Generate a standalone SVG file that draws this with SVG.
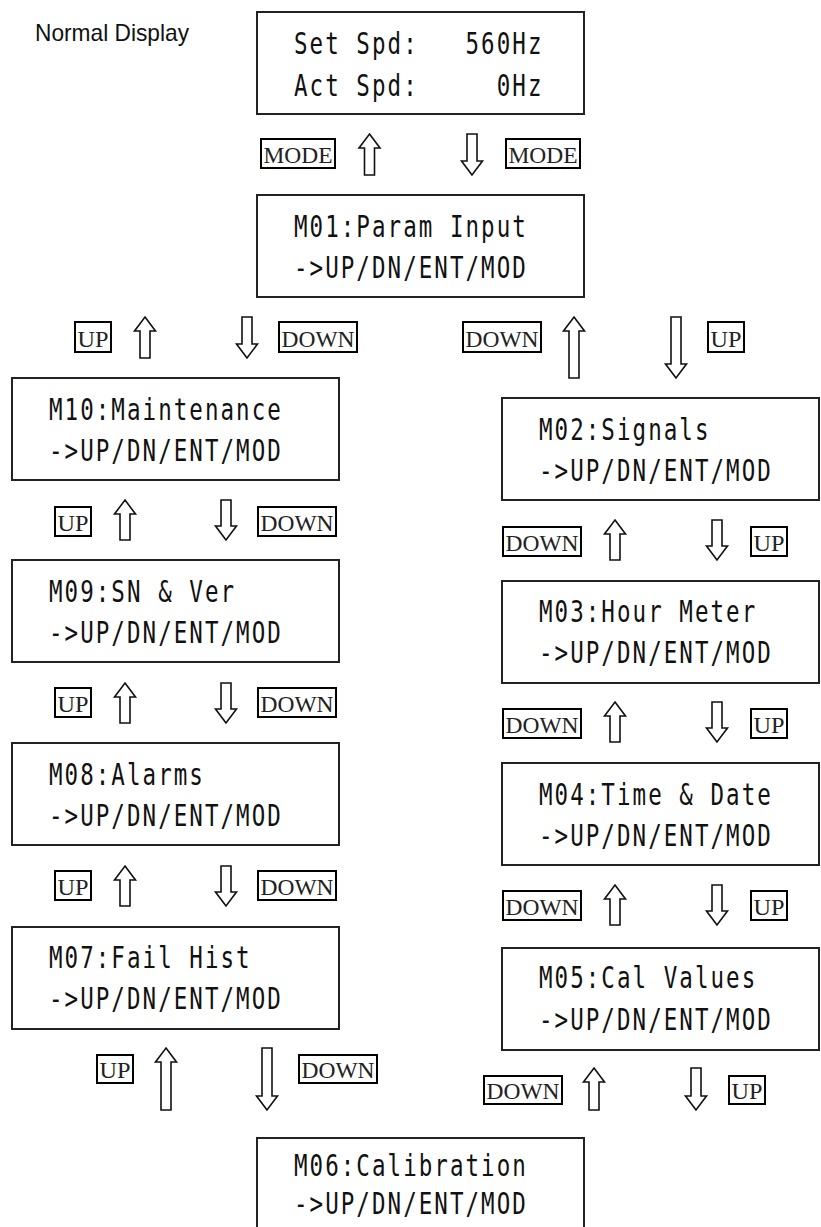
<svg xmlns="http://www.w3.org/2000/svg" width="821" height="1227" viewBox="0 0 821 1227">
<style>
.bg{fill:#fff}
.box{fill:#fff;stroke:#222;stroke-width:2}
.lcd{font-family:"DejaVu Sans Mono","Liberation Mono",monospace;font-size:30px;letter-spacing:2.74px;fill:#111}
.cap{font-family:"Liberation Sans",Arial,sans-serif;font-size:24px;fill:#111}
.lbl{fill:#fff;stroke:#000;stroke-width:2}
.lt{font-family:"Liberation Serif","Times New Roman",serif;font-size:24px;fill:#222;text-anchor:middle}
.arr{fill:#fff;stroke:#111;stroke-width:1.6;stroke-linejoin:miter}
</style>
<rect class="bg" x="0" y="0" width="821" height="1227"/>
<text class="cap" x="35" y="41" textLength="154" lengthAdjust="spacingAndGlyphs">Normal Display</text>

<g id="normal">
<rect class="box" x="257" y="12" width="327" height="102"/>
<text class="lcd" transform="matrix(0.75 0 0 1 294 54)" xml:space="preserve">Set Spd:   560Hz</text>
<text class="lcd" transform="matrix(0.75 0 0 1 294 96)" xml:space="preserve">Act Spd:     0Hz</text>
</g>
<g id="m01">
<rect class="box" x="257" y="195" width="327" height="102"/>
<text class="lcd" transform="matrix(0.75 0 0 1 294 237)">M01:Param Input</text>
<text class="lcd" transform="matrix(0.75 0 0 1 294 278)">-&gt;UP/DN/ENT/MOD</text>
</g>
<g id="m10">
<rect class="box" x="12" y="378" width="327" height="102"/>
<text class="lcd" transform="matrix(0.75 0 0 1 49 420)">M10:Maintenance</text>
<text class="lcd" transform="matrix(0.75 0 0 1 49 461)">-&gt;UP/DN/ENT/MOD</text>
</g>
<g id="m09">
<rect class="box" x="12" y="560" width="327" height="102"/>
<text class="lcd" transform="matrix(0.75 0 0 1 49 602)">M09:SN &amp; Ver</text>
<text class="lcd" transform="matrix(0.75 0 0 1 49 643)">-&gt;UP/DN/ENT/MOD</text>
</g>
<g id="m08">
<rect class="box" x="12" y="743" width="327" height="102"/>
<text class="lcd" transform="matrix(0.75 0 0 1 49 785)">M08:Alarms</text>
<text class="lcd" transform="matrix(0.75 0 0 1 49 826)">-&gt;UP/DN/ENT/MOD</text>
</g>
<g id="m07">
<rect class="box" x="12" y="927" width="327" height="102"/>
<text class="lcd" transform="matrix(0.75 0 0 1 49 968)">M07:Fail Hist</text>
<text class="lcd" transform="matrix(0.75 0 0 1 49 1009)">-&gt;UP/DN/ENT/MOD</text>
</g>
<g id="m02">
<rect class="box" x="502" y="398" width="317" height="102"/>
<text class="lcd" transform="matrix(0.75 0 0 1 539 440)">M02:Signals</text>
<text class="lcd" transform="matrix(0.75 0 0 1 539 481)">-&gt;UP/DN/ENT/MOD</text>
</g>
<g id="m03">
<rect class="box" x="502" y="581" width="317" height="102"/>
<text class="lcd" transform="matrix(0.75 0 0 1 539 622)">M03:Hour Meter</text>
<text class="lcd" transform="matrix(0.75 0 0 1 539 663)">-&gt;UP/DN/ENT/MOD</text>
</g>
<g id="m04">
<rect class="box" x="502" y="763" width="317" height="102"/>
<text class="lcd" transform="matrix(0.75 0 0 1 539 805)">M04:Time &amp; Date</text>
<text class="lcd" transform="matrix(0.75 0 0 1 539 846)">-&gt;UP/DN/ENT/MOD</text>
</g>
<g id="m05">
<rect class="box" x="502" y="948" width="317" height="102"/>
<text class="lcd" transform="matrix(0.75 0 0 1 539 988)">M05:Cal Values</text>
<text class="lcd" transform="matrix(0.75 0 0 1 539 1030)">-&gt;UP/DN/ENT/MOD</text>
</g>
<g id="m06">
<rect class="box" x="257" y="1138" width="327" height="102"/>
<text class="lcd" transform="matrix(0.75 0 0 1 294 1176)">M06:Calibration</text>
<text class="lcd" transform="matrix(0.75 0 0 1 294 1214)">-&gt;UP/DN/ENT/MOD</text>
</g>

<g id="connectors">
<!-- MODE row -->
<rect class="lbl" x="261" y="139" width="74" height="29"/><text class="lt" x="298" y="163" textLength="69" lengthAdjust="spacingAndGlyphs">MODE</text>
<polygon class="arr" points="369.5,134 380,148 374.5,148 374.5,175 364.5,175 364.5,148 359,148"/>
<polygon class="arr" points="472,175 461.5,161 467,161 467,134 477,134 477,161 482.5,161"/>
<rect class="lbl" x="506" y="139" width="74" height="29"/><text class="lt" x="543" y="163" textLength="69" lengthAdjust="spacingAndGlyphs">MODE</text>

<!-- row 1 left -->
<rect class="lbl" x="75" y="322" width="36" height="30"/><text class="lt" x="93" y="347" textLength="31" lengthAdjust="spacingAndGlyphs">UP</text>
<polygon class="arr" points="145,317 155.5,331 150,331 150,358 140,358 140,331 134.5,331"/>
<polygon class="arr" points="247,358 236.5,344 242,344 242,317 252,317 252,344 257.5,344"/>
<rect class="lbl" x="279" y="322" width="78" height="30"/><text class="lt" x="318" y="347" textLength="73" lengthAdjust="spacingAndGlyphs">DOWN</text>
<!-- row 1 right -->
<rect class="lbl" x="463" y="322" width="78" height="30"/><text class="lt" x="502" y="347" textLength="73" lengthAdjust="spacingAndGlyphs">DOWN</text>
<polygon class="arr" points="574,317 584.5,331 579,331 579,378 569,378 569,331 563.5,331"/>
<polygon class="arr" points="676,378 665.5,364 671,364 671,317 681,317 681,364 686.5,364"/>
<rect class="lbl" x="708" y="322" width="36" height="30"/><text class="lt" x="726" y="347" textLength="31" lengthAdjust="spacingAndGlyphs">UP</text>

<!-- left row 2 -->
<rect class="lbl" x="55" y="507" width="36" height="29"/><text class="lt" x="73" y="531" textLength="31" lengthAdjust="spacingAndGlyphs">UP</text>
<polygon class="arr" points="125,500 135.5,514 130,514 130,540 120,540 120,514 114.5,514"/>
<polygon class="arr" points="226,540 215.5,526 221,526 221,500 231,500 231,526 236.5,526"/>
<rect class="lbl" x="258" y="507" width="78" height="29"/><text class="lt" x="297" y="531" textLength="73" lengthAdjust="spacingAndGlyphs">DOWN</text>
<!-- left row 3 -->
<rect class="lbl" x="55" y="688" width="36" height="29"/><text class="lt" x="73" y="712" textLength="31" lengthAdjust="spacingAndGlyphs">UP</text>
<polygon class="arr" points="125,683 135.5,697 130,697 130,723 120,723 120,697 114.5,697"/>
<polygon class="arr" points="226,723 215.5,709 221,709 221,683 231,683 231,709 236.5,709"/>
<rect class="lbl" x="258" y="688" width="78" height="29"/><text class="lt" x="297" y="712" textLength="73" lengthAdjust="spacingAndGlyphs">DOWN</text>
<!-- left row 4 -->
<rect class="lbl" x="55" y="871" width="36" height="29"/><text class="lt" x="73" y="895" textLength="31" lengthAdjust="spacingAndGlyphs">UP</text>
<polygon class="arr" points="125,866 135.5,880 130,880 130,906 120,906 120,880 114.5,880"/>
<polygon class="arr" points="226,906 215.5,892 221,892 221,866 231,866 231,892 236.5,892"/>
<rect class="lbl" x="258" y="871" width="78" height="29"/><text class="lt" x="297" y="895" textLength="73" lengthAdjust="spacingAndGlyphs">DOWN</text>
<!-- left row 5 -->
<rect class="lbl" x="97" y="1055" width="36" height="28"/><text class="lt" x="115" y="1078" textLength="31" lengthAdjust="spacingAndGlyphs">UP</text>
<polygon class="arr" points="166,1048 176.5,1062 171,1062 171,1110 161,1110 161,1062 155.5,1062"/>
<polygon class="arr" points="267,1110 256.5,1096 262,1096 262,1048 272,1048 272,1096 277.5,1096"/>
<rect class="lbl" x="299" y="1055" width="78" height="28"/><text class="lt" x="338" y="1078" textLength="73" lengthAdjust="spacingAndGlyphs">DOWN</text>

<!-- right row 2 -->
<rect class="lbl" x="503" y="527" width="78" height="29"/><text class="lt" x="542" y="551" textLength="73" lengthAdjust="spacingAndGlyphs">DOWN</text>
<polygon class="arr" points="615,520 625.5,534 620,534 620,560 610,560 610,534 604.5,534"/>
<polygon class="arr" points="717,560 706.5,546 712,546 712,520 722,520 722,546 727.5,546"/>
<rect class="lbl" x="751" y="527" width="36" height="29"/><text class="lt" x="769" y="551" textLength="31" lengthAdjust="spacingAndGlyphs">UP</text>
<!-- right row 3 -->
<rect class="lbl" x="503" y="709" width="78" height="29"/><text class="lt" x="542" y="733" textLength="73" lengthAdjust="spacingAndGlyphs">DOWN</text>
<polygon class="arr" points="615,702 625.5,716 620,716 620,742 610,742 610,716 604.5,716"/>
<polygon class="arr" points="717,742 706.5,728 712,728 712,702 722,702 722,728 727.5,728"/>
<rect class="lbl" x="751" y="709" width="36" height="29"/><text class="lt" x="769" y="733" textLength="31" lengthAdjust="spacingAndGlyphs">UP</text>
<!-- right row 4 -->
<rect class="lbl" x="503" y="891" width="78" height="29"/><text class="lt" x="542" y="915" textLength="73" lengthAdjust="spacingAndGlyphs">DOWN</text>
<polygon class="arr" points="615,885 625.5,899 620,899 620,925 610,925 610,899 604.5,899"/>
<polygon class="arr" points="717,925 706.5,911 712,911 712,885 722,885 722,911 727.5,911"/>
<rect class="lbl" x="751" y="891" width="36" height="29"/><text class="lt" x="769" y="915" textLength="31" lengthAdjust="spacingAndGlyphs">UP</text>
<!-- right row 5 -->
<rect class="lbl" x="484" y="1076" width="78" height="28"/><text class="lt" x="523" y="1099" textLength="73" lengthAdjust="spacingAndGlyphs">DOWN</text>
<polygon class="arr" points="594,1068 604.5,1082 599,1082 599,1110 589,1110 589,1082 583.5,1082"/>
<polygon class="arr" points="696,1110 685.5,1096 691,1096 691,1068 701,1068 701,1096 706.5,1096"/>
<rect class="lbl" x="729" y="1076" width="36" height="28"/><text class="lt" x="747" y="1099" textLength="31" lengthAdjust="spacingAndGlyphs">UP</text>
</g>
</svg>
